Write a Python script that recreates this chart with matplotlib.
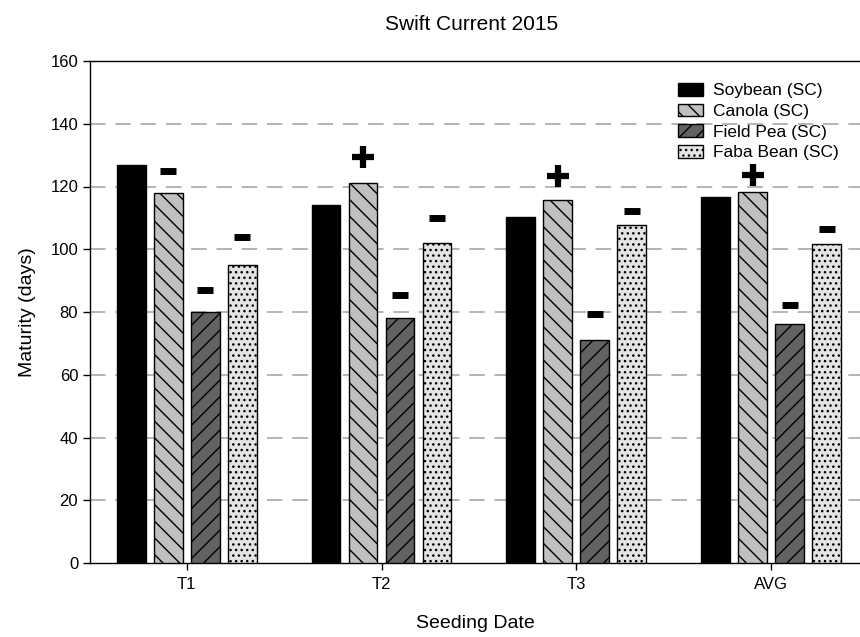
import matplotlib
matplotlib.use("Agg")
import matplotlib.pyplot as plt
import numpy as np

plt.rcParams['font.family'] = ['Liberation Sans', 'DejaVu Sans']
plt.rcParams['hatch.linewidth'] = 1.0

# data
groups = ['T1', 'T2', 'T3', 'AVG']
crops = ['Soybean (SC)', 'Canola (SC)', 'Field Pea (SC)', 'Faba Bean (SC)']
soybean = [126.7, 114.0, 110.2, 116.8]
canola = [117.9, 121.0, 115.8, 118.2]
field_pea = [79.9, 78.0, 71.1, 76.3]
faba_bean = [94.9, 102.0, 107.8, 101.7]

# significance marks (+ / -) relative to soybean, and height above bar
canola_sig = ['-', '+', '+', '+']
pea_sig = ['-', '-', '-', '-']
faba_sig = ['-', '-', '-', '-']
canola_off = [7.0, 8.3, 7.4, 5.6]
pea_off = [7.1, 7.5, 8.2, 6.0]
faba_off = [9.1, 8.0, 4.5, 4.9]

colors = ['#000000', '#c0c0c0', '#626262', '#e4e4e4']
hatches = [None, '\\\\', '//', '...']

fig = plt.figure(figsize=(8.6, 6.37), dpi=100)
ax = fig.add_axes([90 / 860, 1 - 563 / 637, 1 - 90 / 860, (563 - 61) / 637])

x = np.arange(len(groups))
width = 0.148
step = 0.19
series = [soybean, canola, field_pea, faba_bean]
for i, vals in enumerate(series):
    pos = x + (i - 1.5) * step
    ax.bar(pos, vals, width, color=colors[i], edgecolor='black', linewidth=1.0,
           hatch=hatches[i], label=crops[i], zorder=3)

# significance symbols
for vals, sig, off, i in [(canola, canola_sig, canola_off, 1),
                          (field_pea, pea_sig, pea_off, 2),
                          (faba_bean, faba_sig, faba_off, 3)]:
    for j in range(len(groups)):
        xp = x[j] + (i - 1.5) * step
        yp = vals[j] + off[j]
        if sig[j] == '+':
            ax.plot(xp, yp, marker='+', markersize=16, markeredgewidth=4.5,
                    color='black', linestyle='none', zorder=4)
        else:
            ax.plot(xp, yp, marker='_', markersize=11, markeredgewidth=5,
                    color='black', linestyle='none', zorder=4)

ax.set_xlim(-0.497, 3.457)
ax.set_ylim(0, 160)
ax.set_yticks(np.arange(0, 161, 20))
ax.set_xticks(x)
ax.set_xticklabels(groups)
ax.tick_params(axis='both', labelsize=12, direction='out', length=5, width=1)
ax.tick_params(axis='x', pad=5)

for yv in range(20, 160, 20):
    ax.axhline(yv, color='#b4b4b4', linestyle=(0, (8, 5)), linewidth=1.4, zorder=1)

ax.spines['right'].set_visible(False)
for s in ['left', 'bottom', 'top']:
    ax.spines[s].set_linewidth(1.0)

ax.set_xlabel('Seeding Date', fontsize=14, labelpad=17)
ax.set_ylabel('Maturity (days)', fontsize=14, labelpad=10)
fig.text(472 / 860, 1 - 25 / 637, 'Swift Current 2015', ha='center', va='center', fontsize=15)

ax.legend(loc='upper left', bbox_to_anchor=(678 / 860, 1 - 83 / 637),
          bbox_transform=fig.transFigure, frameon=False, fontsize=12.5,
          handlelength=1.45, handleheight=0.75, handletextpad=0.55,
          labelspacing=0.3, borderpad=0, borderaxespad=0)

fig.savefig('out.png', dpi=100)
